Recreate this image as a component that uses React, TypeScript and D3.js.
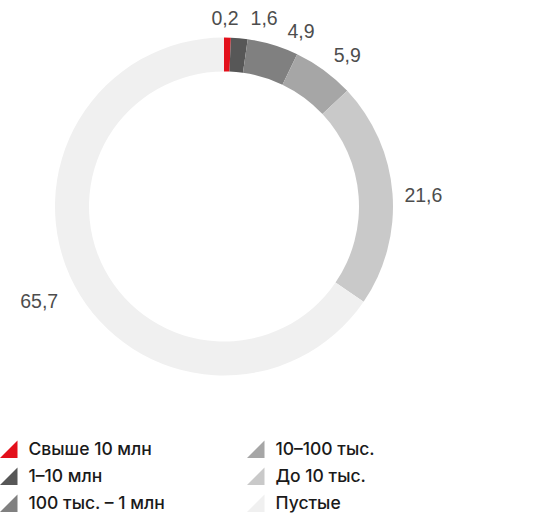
import React from "react";
import * as d3 from "d3";

const categories = ["Свыше 10 млн", "1–10 млн", "100 тыс. – 1 млн", "10–100 тыс.", "До 10 тыс.", "Пустые"];
const values = [0.2, 1.6, 4.9, 5.9, 21.6, 65.7];
const valueLabels = ["0,2", "1,6", "4,9", "5,9", "21,6", "65,7"];
const colors = ["#e3101b", "#575757", "#808080", "#a6a6a6", "#c9c9c9", "#f0f0f0"];

// label nudges for small slices (dx, dy)
const labelNudge: [number, number][] = [
  [-3, 11],
  [22, 11],
  [19, 16],
  [5, 10],
  [0, 4],
  [-8, 1],
];

const W = 550;
const H = 528;
const cx = 224;
const cy = 206.5;
const outerR = 169;
const innerR = 135;
const labelR = 200;
const minVisible = 0.65;

export default function App() {
  const displayVals = values.map((v) => Math.max(v, minVisible));
  const pie = d3.pie<number>().sort(null).value((d) => d);
  const arcs = pie(displayVals);
  const arcGen = d3.arc<d3.PieArcDatum<number>>().innerRadius(innerR).outerRadius(outerR);
  const labelArc = d3.arc<d3.PieArcDatum<number>>().innerRadius(labelR).outerRadius(labelR);

  const legendX = d3.scaleOrdinal<number, number>().domain([0, 1]).range([0, 247]);
  const legendY = d3.scaleLinear().domain([0, 2]).range([458, 512]);
  const tri = 17.5;

  return (
    <svg width={W} height={H} style={{ position: "absolute", left: 0, top: 0 }}>
      <g transform={`translate(${cx},${cy})`}>
        {arcs.map((a, i) => (
          <path key={i} d={arcGen(a) || ""} fill={colors[i]} />
        ))}
        {arcs.map((a, i) => {
          const [x, y] = labelArc.centroid(a);
          return (
            <text
              key={"l" + i}
              x={x + labelNudge[i][0]}
              y={y + labelNudge[i][1]}
              textAnchor="middle"
              dominantBaseline="central"
              fontFamily="Liberation Sans, Arial, sans-serif"
              fontSize={19.5}
              fill="#4d4d4d"
            >
              {valueLabels[i]}
            </text>
          );
        })}
      </g>
      {categories.map((c, i) => {
        const col = Math.floor(i / 3);
        const row = i % 3;
        const x0 = legendX(col);
        const yb = legendY(row);
        return (
          <g key={"lg" + i}>
            <path
              d={`M${x0},${yb} L${x0 + tri},${yb - tri} L${x0 + tri},${yb} Z`}
              fill={colors[i]}
            />
            <text
              x={x0 + 28.5}
              y={yb - 3}
              fontFamily="Inter, sans-serif"
              fontSize={17.5}
              fontWeight={500}
              fill="#1a1a1a"
            >
              {c}
            </text>
          </g>
        );
      })}
    </svg>
  );
}
